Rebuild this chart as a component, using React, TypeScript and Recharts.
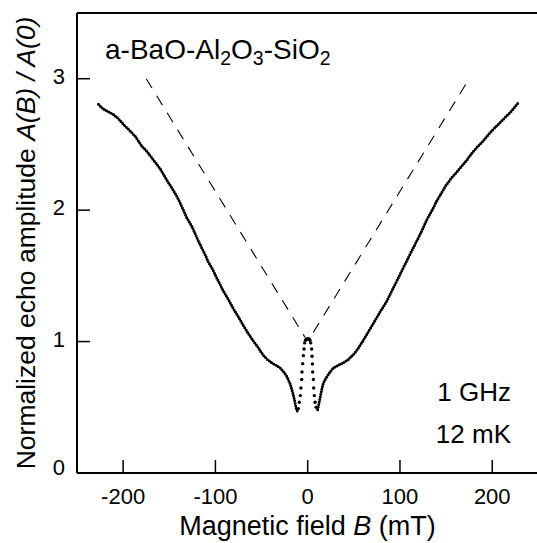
import React from "react";
import { ComposedChart, Line, XAxis, YAxis, ReferenceLine } from "recharts";

// left branch (outside the dip)
const fieldLeft = [
  -226.7, -223.1, -217.7, -210.5, -205.1, -199.6, -192.4, -187.0, -183.4, -179.8,
  -174.4, -169.0, -165.3, -159.9, -156.3, -152.0, -147.3, -141.9, -138.3, -134.7,
  -131.0, -125.6, -122.0, -118.4, -114.8, -111.2, -107.6, -102.9, -98.6, -94.9,
  -91.3, -85.9, -80.5, -75.1, -69.7, -64.3, -58.8, -53.4, -48.7, -44.4,
  -39.0, -33.6, -30.0, -26.4, -22.7, -19.1, -16.6, -14.4, -12.6, -11.2,
];
const ampLeft = [
  2.805, 2.779, 2.754, 2.728, 2.695, 2.652, 2.602, 2.563, 2.525, 2.487,
  2.449, 2.398, 2.365, 2.315, 2.272, 2.221, 2.17, 2.107, 2.056, 2.0,
  1.942, 1.878, 1.822, 1.764, 1.713, 1.662, 1.604, 1.548, 1.485, 1.434,
  1.383, 1.32, 1.249, 1.188, 1.122, 1.061, 1.003, 0.952, 0.901, 0.868,
  0.838, 0.817, 0.8, 0.774, 0.736, 0.68, 0.622, 0.558, 0.495, 0.47,
];

// sparse points across the central peak
const fieldCenter = [
  -10.1, -9.1, -8.0, -7.3, -6.5, -6.2, -5.4, -4.7, -4.0, -3.3, -2.4, -1.5, -0.5,
  0.5, 1.5, 2.4, 3.3, 4.3, 4.7, 5.1, 5.4, 6.2, 6.5, 7.2, 8.0, 9.2,
];
const ampCenter = [
  0.49, 0.538, 0.589, 0.647, 0.711, 0.769, 0.832, 0.893, 0.944, 0.99, 1.01, 1.02, 1.02,
  1.02, 1.02, 1.01, 0.99, 0.944, 0.888, 0.83, 0.769, 0.711, 0.647, 0.589, 0.538, 0.5,
];

// right branch
const fieldRight = [
  10.8, 11.9, 13.4, 15.2, 17.0, 19.9, 23.5, 27.8, 33.2, 38.6,
  44.0, 49.5, 53.8, 58.5, 63.9, 69.3, 74.7, 80.1, 85.6, 91.0,
  96.4, 101.8, 107.2, 112.6, 118.1, 123.5, 128.9, 134.3, 139.7, 145.1,
  150.5, 156.0, 161.4, 166.8, 172.2, 177.6, 183.0, 188.4, 193.9, 199.3,
  204.7, 210.1, 215.5, 220.9, 228.2,
];
const ampRight = [
  0.482, 0.52, 0.571, 0.635, 0.685, 0.723, 0.761, 0.8, 0.82, 0.838,
  0.863, 0.901, 0.939, 0.99, 1.053, 1.117, 1.18, 1.244, 1.307, 1.383,
  1.459, 1.536, 1.612, 1.688, 1.764, 1.84, 1.924, 1.992, 2.069, 2.132,
  2.195, 2.246, 2.289, 2.335, 2.378, 2.431, 2.475, 2.513, 2.558, 2.602,
  2.64, 2.678, 2.716, 2.754, 2.817,
];

// dashed guide lines
const guideLeftB = [-175, -3];
const guideLeftA = [3, 1.034];
const guideRightB = [6, 175];
const guideRightA = [1.069, 3];

const xTicks = [-200, -100, 0, 100, 200];
const yTicks = [0, 1, 2, 3];

const toRows = (b: number[], a: number[]) => b.map((v, i) => ({ b: v, a: a[i] }));

const FONT = "'Liberation Sans', Arial, Helvetica, sans-serif";

const XTick = ({ x, y, payload }: any) => (
  <g>
    <line x1={x} x2={x} y1={y} y2={y - 13} stroke="#000" strokeWidth={1.5} />
    <text x={x} y={y + 31} textAnchor="middle" fontSize={22} fontFamily={FONT} fill="#000">
      {payload.value}
    </text>
  </g>
);

const YTick = ({ x, y, payload }: any) => (
  <g>
    {payload.value !== 0 && (
      <line x1={x} x2={x + 13} y1={y} y2={y} stroke="#000" strokeWidth={1.5} />
    )}
    <text
      x={x - 12}
      y={payload.value === 0 ? y + 2 : y + 5}
      textAnchor="end"
      fontSize={22}
      fontFamily={FONT}
      fill="#000"
    >
      {payload.value}
    </text>
  </g>
);

export default function App() {
  return (
    <div style={{ position: "absolute", left: 0, top: 0, width: 537, height: 543, background: "#fff" }}>
      <ComposedChart width={537} height={543} margin={{ top: 13, right: 0, bottom: 0, left: 0 }}>
        <XAxis
          dataKey="b"
          type="number"
          domain={[-250, 248.5]}
          ticks={xTicks}
          allowDataOverflow
          height={70}
          tickSize={0}
          tickMargin={0}
          tickLine={false}
          axisLine={{ stroke: "#000", strokeWidth: 2 }}
          tick={<XTick />}
        />
        <YAxis
          dataKey="a"
          type="number"
          domain={[0, 3.5]}
          ticks={yTicks}
          allowDataOverflow
          width={77}
          tickSize={0}
          tickMargin={0}
          tickLine={false}
          axisLine={{ stroke: "#000", strokeWidth: 2 }}
          tick={<YTick />}
        />
        <ReferenceLine y={3.5} stroke="#000" strokeWidth={2} />
        <Line
          data={toRows(guideLeftB, guideLeftA)}
          dataKey="a"
          stroke="#000"
          strokeWidth={1.1}
          strokeDasharray="11 9"
          dot={false}
          isAnimationActive={false}
        />
        <Line
          data={toRows(guideRightB, guideRightA)}
          dataKey="a"
          stroke="#000"
          strokeWidth={1.1}
          strokeDasharray="11 9"
          dot={false}
          isAnimationActive={false}
        />
        <Line
          data={toRows(fieldLeft, ampLeft)}
          dataKey="a"
          stroke="#000"
          strokeWidth={3}
          strokeDasharray="0 2.6"
          strokeLinecap="round"
          dot={false}
          isAnimationActive={false}
        />
        <Line
          data={toRows(fieldRight, ampRight)}
          dataKey="a"
          stroke="#000"
          strokeWidth={3}
          strokeDasharray="0 2.6"
          strokeLinecap="round"
          dot={false}
          isAnimationActive={false}
        />
        <Line
          data={toRows(fieldCenter, ampCenter)}
          dataKey="a"
          stroke="none"
          dot={{ r: 1.7, fill: "#000", stroke: "none" }}
          isAnimationActive={false}
        />
      </ComposedChart>

      <svg
        width={537}
        height={543}
        style={{ position: "absolute", left: 0, top: 0, pointerEvents: "none" }}
        fontFamily={FONT}
        fill="#000"
      >
        <text x={105} y={59} fontSize={28}>
          a-BaO-Al
          <tspan fontSize={19.5} dy={6}>2</tspan>
          <tspan dy={-6}>O</tspan>
          <tspan fontSize={19.5} dy={6}>3</tspan>
          <tspan dy={-6}>-SiO</tspan>
          <tspan fontSize={19.5} dy={6}>2</tspan>
        </text>
        <text x={511} y={401} fontSize={26} textAnchor="end">1 GHz</text>
        <text x={511} y={443} fontSize={26} textAnchor="end">12 mK</text>
        <text x={307.5} y={535} fontSize={27} textAnchor="middle">
          Magnetic field <tspan fontStyle="italic">B</tspan> (mT)
        </text>
        <text
          transform="translate(35,243) rotate(-90)"
          fontSize={26.5}
          textAnchor="middle"
        >
          Normalized echo amplitude <tspan fontStyle="italic">A(B) / A(0)</tspan>
        </text>
      </svg>
    </div>
  );
}
